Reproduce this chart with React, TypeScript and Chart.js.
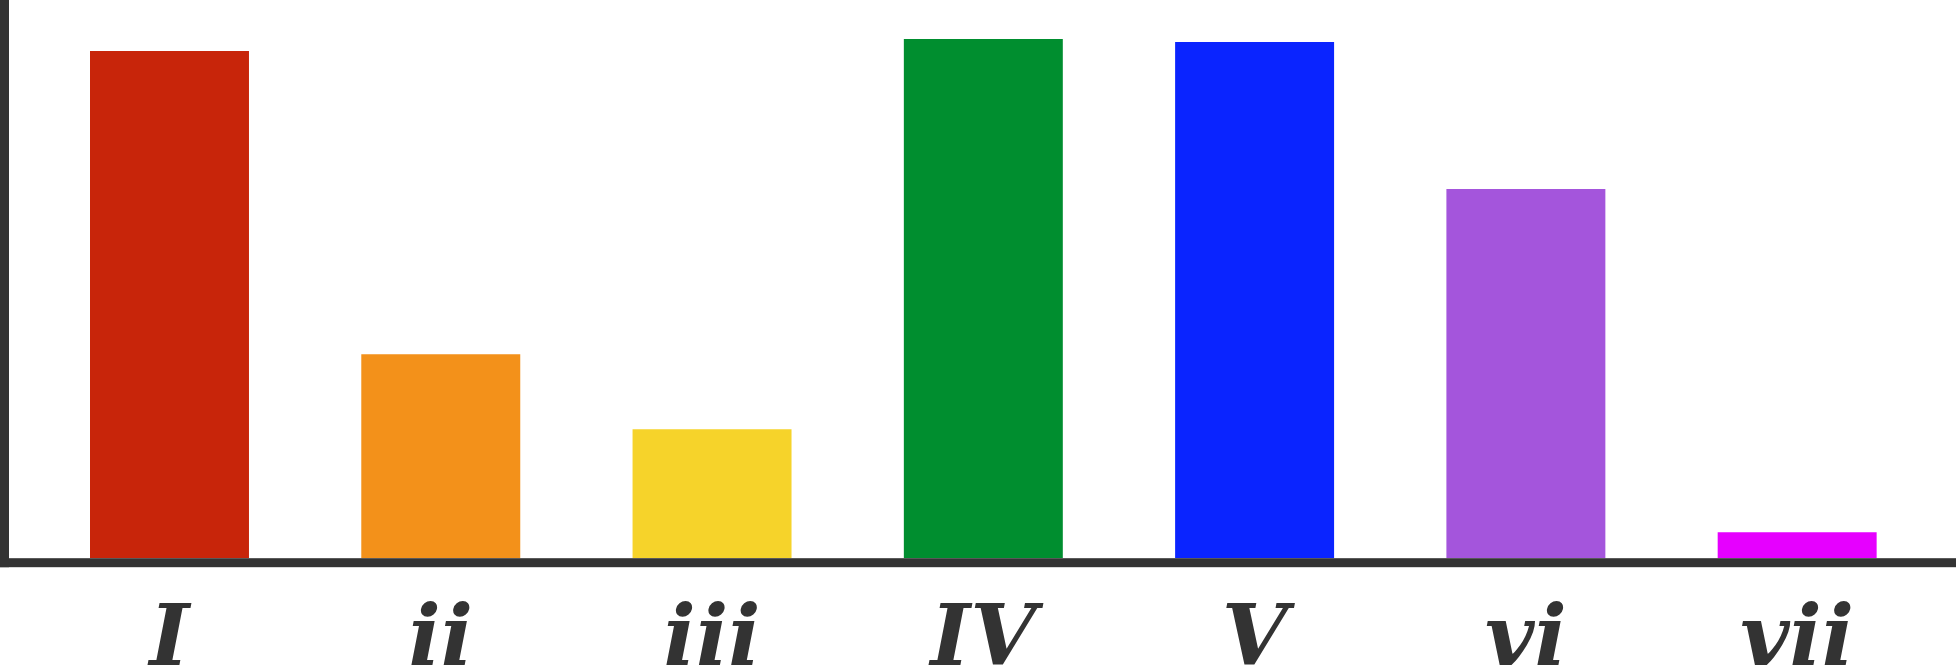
import React, { useEffect, useRef } from "react";
import { Chart, registerables } from "chart.js";

Chart.register(...registerables);

const categories = ["I", "ii", "iii", "IV", "V", "vi", "vii"];
const values = [507, 204, 129, 519, 516, 369, 26];
const colors = ["#C8250A", "#F3911A", "#F6D32A", "#008E2F", "#0A24FF", "#A455DC", "#E600FF"];
const yMax = 558;

const axisLines = {
  id: "axisLines",
  afterDraw(chart: any) {
    const { ctx, chartArea, width } = chart;
    const b = chartArea.bottom;
    ctx.save();
    ctx.fillStyle = "#333333";
    ctx.fillRect(0, b, width, 9);
    ctx.fillRect(0, 0, 9, b + 9);
    ctx.restore();
  },
};

export default function App() {
  const ref = useRef<HTMLCanvasElement | null>(null);
  useEffect(() => {
    document.body.style.margin = "0";
    const chart = new Chart(ref.current!, {
      type: "bar",
      data: {
        labels: categories,
        datasets: [
          {
            data: values,
            backgroundColor: colors,
            borderWidth: 0,
            barPercentage: 0.586,
            categoryPercentage: 1,
          },
        ],
      },
      options: {
        responsive: false,
        animation: false,
        devicePixelRatio: 1,
        layout: { padding: { left: 33.85, right: 23.2, top: 0, bottom: 0 } },
        plugins: { legend: { display: false }, tooltip: { enabled: false } },
        scales: {
          y: { display: false, min: 0, max: yMax },
          x: {
            grid: { display: false, drawTicks: false, tickLength: 0 },
            border: { display: false },
            ticks: {
              color: "#333333",
              padding: 33.4,
              font: { family: "DejaVu Serif", size: 85, style: "italic", weight: "bold" },
            },
          },
        },
      },
      plugins: [axisLines],
    });
    return () => chart.destroy();
  }, []);
  return (
    <div style={{ position: "absolute", left: 0, top: 0, width: 1956, height: 666, overflow: "hidden", background: "#fff" }}>
      <canvas ref={ref} width={1956} height={727} />
    </div>
  );
}
